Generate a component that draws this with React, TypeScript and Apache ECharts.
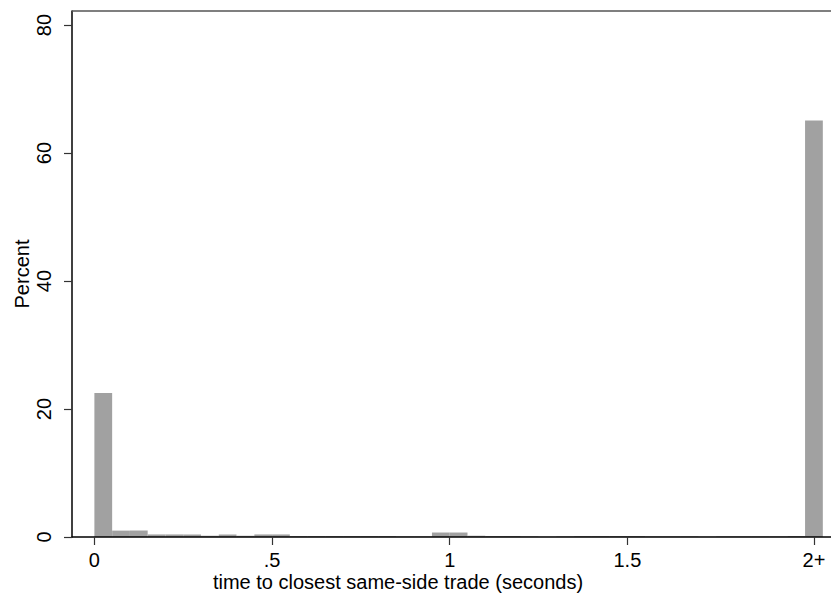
import React, { useEffect, useRef } from "react";
import * as echarts from "echarts";

// Histogram bins (start of each 0.05-wide bin) and percent values
const binWidth = 0.05;
const binStarts = [
  0.0, 0.05, 0.1, 0.15, 0.2, 0.25, 0.3, 0.35, 0.4, 0.45,
  0.5, 0.55, 0.6, 0.65, 0.7, 0.75, 0.8, 0.85, 0.9, 0.95,
  1.0, 1.05, 1.1, 1.15, 1.2, 1.25, 1.3, 1.35, 1.4, 1.45,
  1.5, 1.55, 1.6, 1.65, 1.7, 1.75, 1.8, 1.85, 1.9, 1.95,
  2.0,
];
const percents = [
  22.5, 1.0, 1.0, 0.4, 0.4, 0.4, 0.2, 0.4, 0.2, 0.4,
  0.4, 0.15, 0.15, 0.15, 0.15, 0.15, 0.15, 0.1, 0.1, 0.7,
  0.7, 0.2, 0.15, 0.15, 0.1, 0.05, 0.1, 0.15, 0.15, 0.15,
  0.15, 0.1, 0.1, 0.1, 0.05, 0.1, 0.1, 0.1, 0.1, 0.15,
  65.1,
];

const xTickValues = [0, 0.5, 1, 1.5, 2.025];
const xTickLabels = ["0", ".5", "1", "1.5", "2+"];
const yTickValues = [0, 20, 40, 60, 80];
const yTickLabels = ["0", "20", "40", "60", "80"];

const xTitle = "time to closest same-side trade (seconds)";
const yTitle = "Percent";

const FONT = "'Liberation Sans', Arial, Helvetica, sans-serif";

export default function App() {
  const ref = useRef<HTMLDivElement>(null);

  useEffect(() => {
    if (!ref.current) return;
    const chart = echarts.init(ref.current, undefined, { renderer: "svg" });
    const data = binStarts.map((s, i) => [s, s + binWidth, percents[i]]);

    chart.setOption({
      animation: false,
      backgroundColor: "#ffffff",
      textStyle: { fontFamily: FONT },
      grid: {
        left: 72,
        right: 0,
        top: 11,
        bottom: 57,
        containLabel: false,
        outerBoundsMode: "none",
      },
      xAxis: {
        type: "value",
        min: -0.063,
        max: 2.073,
        z: 10,
        name: xTitle,
        nameLocation: "middle",
        nameGap: 35,
        nameMoveOverlap: false,
        nameTextStyle: {
          fontFamily: FONT,
          fontSize: 20,
          lineHeight: 20,
          color: "#000",
          verticalAlign: "top",
          padding: [0, 107, 0, 0],
        },
        axisLine: { show: true, onZero: false, lineStyle: { color: "#000", width: 1.5 } },
        axisTick: {
          show: true,
          length: 8,
          customValues: xTickValues,
          lineStyle: { color: "#333", width: 1.2 },
        },
        axisLabel: {
          customValues: xTickValues,
          margin: 15,
          fontFamily: FONT,
          fontSize: 20,
          lineHeight: 16,
          color: "#000",
          formatter: (v: number) => {
            const i = xTickValues.findIndex((t) => Math.abs(t - v) < 1e-6);
            return i >= 0 ? xTickLabels[i] : "";
          },
        },
        splitLine: { show: false },
      },
      yAxis: {
        type: "value",
        min: 0,
        max: 82.2,
        z: 10,
        name: yTitle,
        nameLocation: "middle",
        nameGap: 40,
        nameRotate: 90,
        nameMoveOverlap: false,
        nameTextStyle: { fontFamily: FONT, fontSize: 20, color: "#000" },
        axisLine: { show: true, onZero: false, lineStyle: { color: "#000", width: 1.5 } },
        axisTick: {
          show: true,
          length: 8,
          customValues: yTickValues,
          lineStyle: { color: "#333", width: 1.2 },
        },
        axisLabel: {
          customValues: yTickValues,
          rotate: 90,
          margin: 18,
          fontFamily: FONT,
          fontSize: 20,
          color: "#000",
          formatter: (v: number) => {
            const i = yTickValues.findIndex((t) => Math.abs(t - v) < 1e-6);
            return i >= 0 ? yTickLabels[i] : "";
          },
        },
        splitLine: { show: false },
      },
      graphic: [
        {
          type: "line",
          shape: { x1: 72, y1: 11, x2: 831, y2: 11 },
          style: { stroke: "#555", lineWidth: 1.5 },
          z: 20,
        },
      ],
      series: [
        {
          type: "custom",
          data,
          encode: { x: [0, 1], y: 2 },
          renderItem: (params: any, api: any) => {
            const x0 = api.value(0);
            const x1 = api.value(1);
            const v = api.value(2);
            const p0 = api.coord([x0, 0]);
            const p1 = api.coord([x1, v]);
            return {
              type: "rect",
              shape: {
                x: p0[0],
                y: p1[1],
                width: p1[0] - p0[0],
                height: p0[1] - p1[1],
              },
              style: { fill: "#a1a1a1" },
            };
          },
        },
      ],
    });

    return () => chart.dispose();
  }, []);

  return (
    <div
      ref={ref}
      style={{ position: "absolute", left: 0, top: 0, width: 831, height: 594 }}
    />
  );
}
